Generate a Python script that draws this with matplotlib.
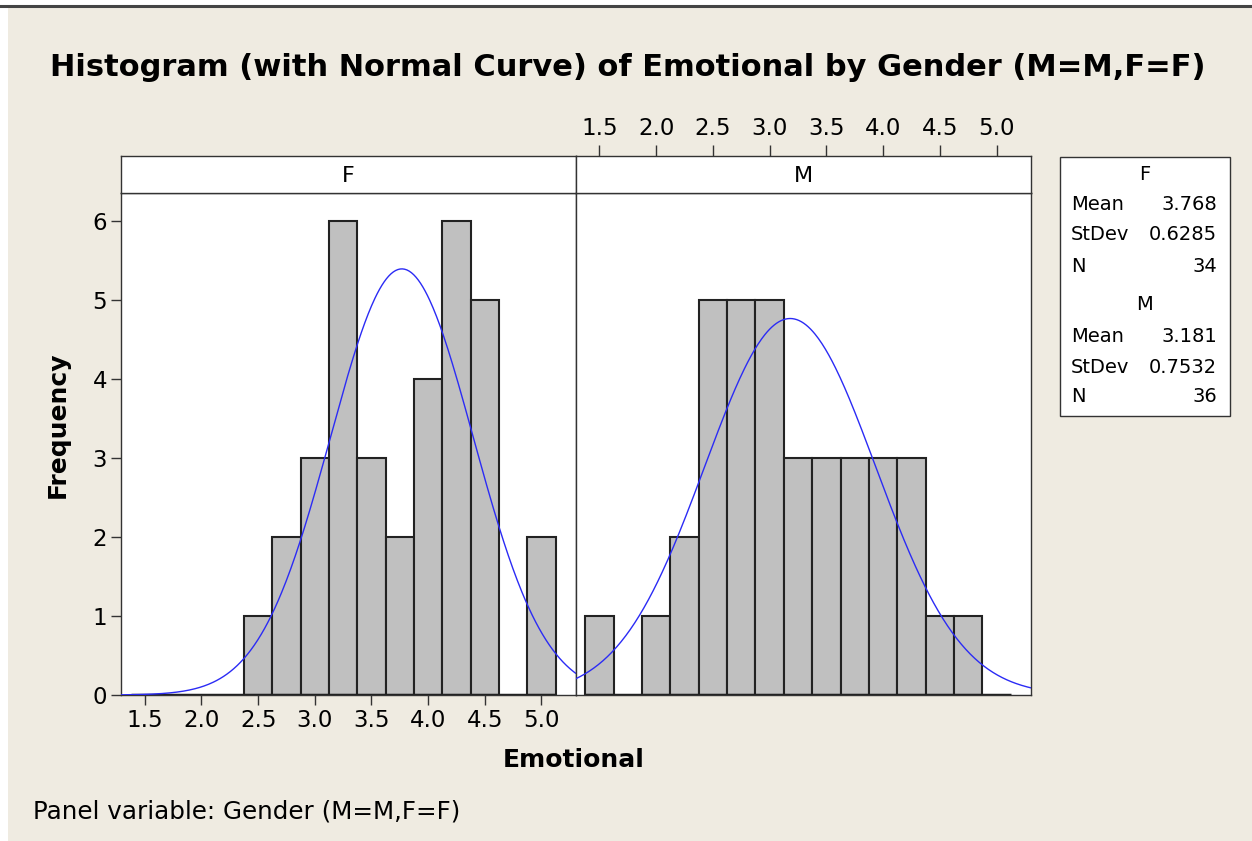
import numpy as np
import matplotlib
matplotlib.use("Agg")
import matplotlib.pyplot as plt
from matplotlib.patches import Rectangle
from matplotlib.lines import Line2D

# ---- data ----
bin_centers = [1.5, 1.75, 2.0, 2.25, 2.5, 2.75, 3.0, 3.25, 3.5, 3.75, 4.0, 4.25, 4.5, 4.75, 5.0]
counts_F = [0, 0, 0, 0, 1, 2, 3, 6, 3, 2, 4, 6, 5, 0, 2]
counts_M = [1, 0, 1, 2, 5, 5, 5, 3, 3, 3, 3, 3, 1, 1, 0]
panels = ["F", "M"]
means = [3.768, 3.181]
stdevs = [0.6285, 0.7532]
ns = [34, 36]
bin_width = 0.25
x_ticks = [1.5, 2.0, 2.5, 3.0, 3.5, 4.0, 4.5, 5.0]
y_ticks = [0, 1, 2, 3, 4, 5, 6]

W, H = 1252, 841
BG = "#EFEBE1"
EDGE = "#222222"
plt.rcParams['font.family'] = ['DejaVu Sans']

fig = plt.figure(figsize=(W / 100, H / 100), dpi=100)
fig.patch.set_facecolor("white")

def fx(px):
    return px / W

def fy(py):
    return 1 - py / H

# beige background region with top rule
bg_ax = fig.add_axes([fx(8), 0, 1 - fx(8), fy(6)])
bg_ax.set_xlim(0, 1); bg_ax.set_ylim(0, 1)
bg_ax.axis("off")
bg_ax.add_patch(Rectangle((0, 0), 1, 1, facecolor=BG, edgecolor="none", transform=bg_ax.transAxes))
fig.add_artist(Line2D([0, 1], [fy(6), fy(6)], color="#444444", lw=2.2, transform=fig.transFigure))

xlim = (1.29, 5.30)
ylim = (0, 6.36)
ax_top, ax_bot = 192.7, 695.0
strip_top = 155.7
lefts = [121.0, 575.5]
right_edge = 1030.7
widths = [lefts[1] - lefts[0], right_edge - lefts[1]]
counts_all = [counts_F, counts_M]
TICK_FS = 16.5

for i, name in enumerate(panels):
    ax = fig.add_axes([fx(lefts[i]), fy(ax_bot), fx(widths[i]), (ax_bot - ax_top) / H])
    ax.set_facecolor("white")
    ax.set_xlim(*xlim)
    ax.set_ylim(*ylim)
    c = np.array(counts_all[i])
    xc = np.array(bin_centers)
    m = c > 0
    ax.bar(xc[m], c[m], width=bin_width, color="#C0C0C0", edgecolor=EDGE, linewidth=1.5, zorder=2)
    ax.plot([bin_centers[0] - bin_width / 2, bin_centers[-1] + bin_width / 2], [0, 0],
            color=EDGE, lw=2.5, zorder=3, solid_capstyle="butt")
    xs = np.linspace(xlim[0], xlim[1], 400)
    ys = ns[i] * bin_width / (stdevs[i] * np.sqrt(2 * np.pi)) * np.exp(-0.5 * ((xs - means[i]) / stdevs[i]) ** 2)
    ax.plot(xs, ys, color="#2B2BF5", lw=1.0, zorder=4, clip_on=True)
    for s in ax.spines.values():
        s.set_color("#333333")
        s.set_linewidth(1.0)
    if i == 0:
        ax.set_yticks(y_ticks)
        ax.set_xticks(x_ticks)
        ax.set_xticklabels([f"{t:.1f}" for t in x_ticks])
        ax.tick_params(axis="both", direction="out", length=7, width=1, color="#333333",
                       labelsize=TICK_FS, pad=3)
    else:
        ax.set_yticks([])
        ax.set_xticks([])
    # strip
    sax = fig.add_axes([fx(lefts[i]), fy(ax_top), fx(widths[i]), (ax_top - strip_top) / H])
    sax.set_facecolor("white")
    sax.set_xlim(*xlim)
    sax.set_yticks([])
    for s in sax.spines.values():
        s.set_color("#333333")
        s.set_linewidth(1.0)
    sax.text(0.5, 0.45, name, transform=sax.transAxes, ha="center", va="center", fontsize=16)
    if i == 1:
        sax.xaxis.tick_top()
        sax.set_xticks(x_ticks)
        sax.set_xticklabels([f"{t:.1f}" for t in x_ticks])
        sax.tick_params(axis="x", direction="out", length=8, width=1, color="#333333",
                        labelsize=TICK_FS, pad=3)
    else:
        sax.set_xticks([])

# title and labels
fig.text(fx(628), fy(68), "Histogram (with Normal Curve) of Emotional by Gender (M=M,F=F)",
         ha="center", va="center", fontsize=22.0, fontweight="bold")
fig.text(fx(58), fy(425), "Frequency", ha="center", va="center", rotation=90,
         fontsize=18, fontweight="bold")
fig.text(fx(574), fy(760), "Emotional", ha="center", va="center", fontsize=18, fontweight="bold")
fig.text(fx(33), fy(812), "Panel variable: Gender (M=M,F=F)", ha="left", va="center", fontsize=17.7)

# legend box
lx0, lx1, ly0, ly1 = 1060, 1229.5, 156.7, 416
fig.add_artist(Rectangle((fx(lx0), fy(ly1)), fx(lx1 - lx0), (ly1 - ly0) / H,
                         facecolor="white", edgecolor="#333333", lw=1.0, transform=fig.transFigure))
rows_y = [[174, 205, 235, 266], [305, 336, 367, 397]]
for i, name in enumerate(panels):
    yy = rows_y[i]
    fig.text(fx(1145), fy(yy[0]), name, ha="center", va="center", fontsize=14)
    labels = ["Mean", "StDev", "N"]
    vals = [f"{means[i]:.3f}", f"{stdevs[i]:.4f}", f"{ns[i]}"]
    for lab, val, y in zip(labels, vals, yy[1:]):
        fig.text(fx(1071), fy(y), lab, ha="left", va="center", fontsize=14)
        fig.text(fx(1217), fy(y), val, ha="right", va="center", fontsize=14)

fig.savefig("out.png", dpi=100, facecolor=fig.get_facecolor())
